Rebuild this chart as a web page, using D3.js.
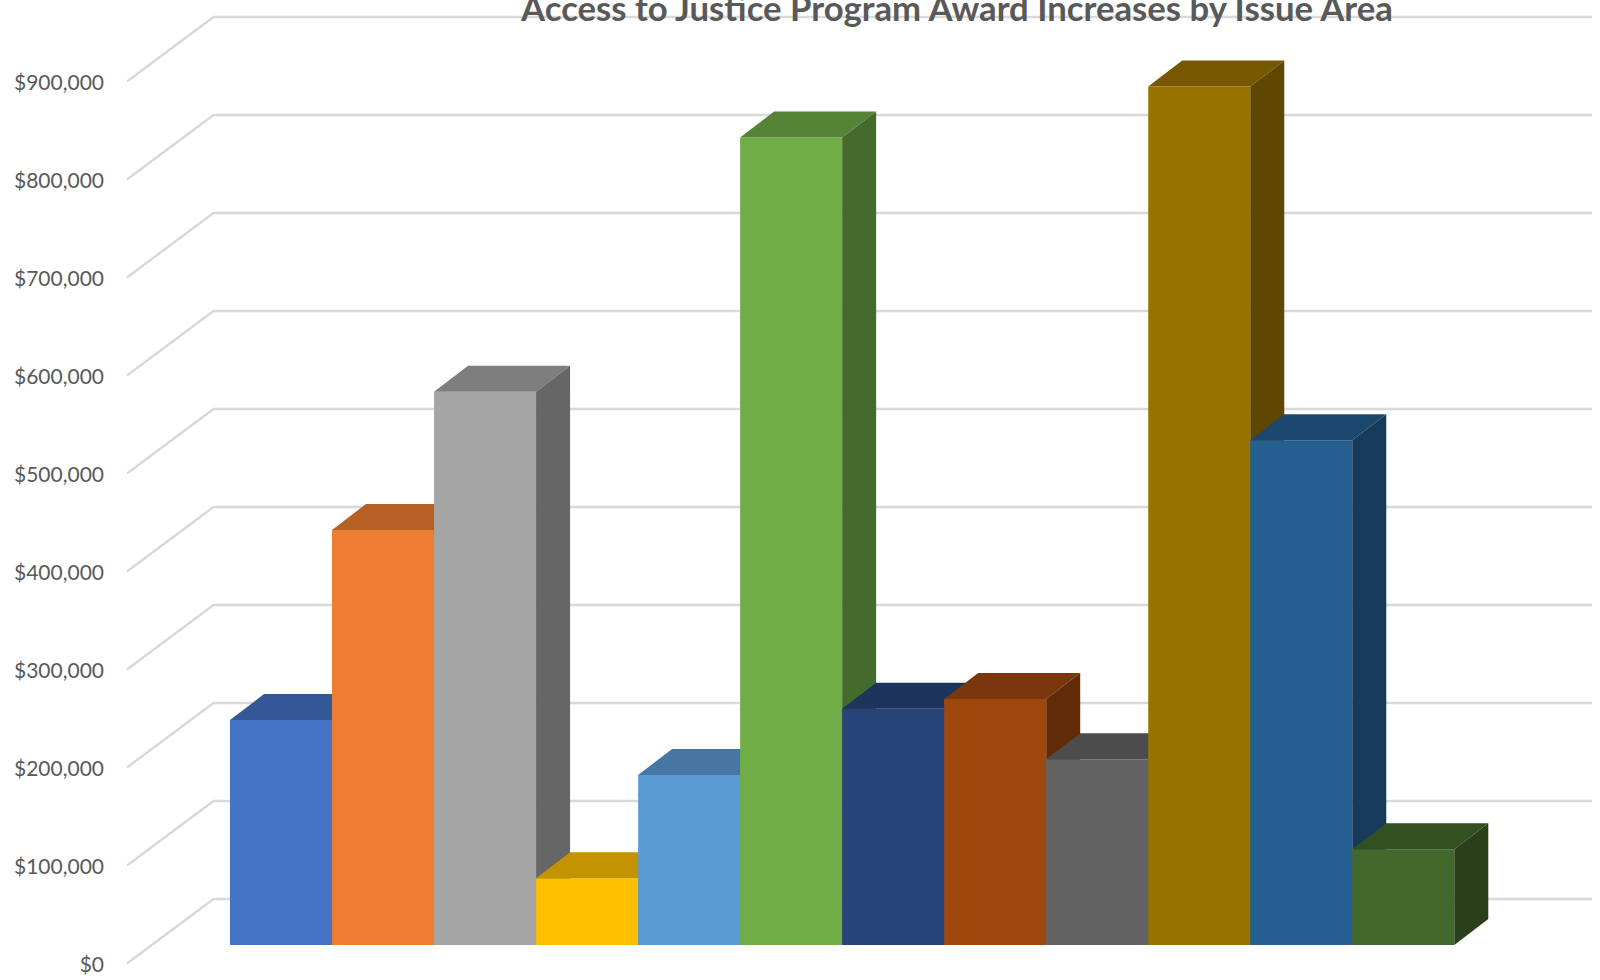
<!DOCTYPE html>
<html>
<head>
<meta charset="utf-8">
<script src="https://cdn.jsdelivr.net/npm/d3@7"></script>
<style>
  html, body { margin: 0; padding: 0; background: #ffffff; overflow: hidden; }
  svg { display: block; }
</style>
</head>
<body>
<svg id="chart" width="1600" height="980"></svg>
<script>
// ---------- data ----------
const title = "Access to Justice Program Award Increases by Issue Area";
const categories = ["Area 1", "Area 2", "Area 3", "Area 4", "Area 5", "Area 6",
                    "Area 7", "Area 8", "Area 9", "Area 10", "Area 11", "Area 12"];
const values = [229500, 423500, 564500, 68000, 173500, 824000,
                241000, 251000, 189500, 876000, 515000, 97700];
const colors = ["#4472C4", "#ED7D31", "#A5A5A5", "#FFC000", "#5B9BD5", "#70AD47",
                "#264478", "#9E480E", "#636363", "#997300", "#255E91", "#43682B"];
const tickValues = [0, 100000, 200000, 300000, 400000, 500000, 600000, 700000, 800000, 900000];

// ---------- layout ----------
const W = 1600, H = 980;
const wall = { left: 213.5, right: 1592 };
const sideDepth = { dx: -86.5, dy: 64.5 };   // back wall -> front plane
const barDepth = { dx: 34, dy: -26 };        // bar front -> bar back
const barBase = 945;                          // bar front-face bottom

const svg = d3.select("#chart");

// value scale on the back wall
const y = d3.scaleLinear().domain([0, 900000]).range([899, 17]);
// value scale on the bars' front plane
const yBar = d3.scaleLinear().domain([0, 900000]).range([barBase, barBase - (899 - 17)]);
const x = d3.scaleBand().domain(categories).range([230, 1454.3]).padding(0);

// ---------- gridlines ----------
const grid = svg.append("g").attr("fill", "none")
  .attr("stroke", "#D9D9D9").attr("stroke-width", 2.5)
  .attr("stroke-linejoin", "round").attr("stroke-linecap", "butt");
grid.selectAll("path").data(tickValues).join("path")
  .attr("d", d => {
    const yb = y(d);
    return `M${wall.left + sideDepth.dx},${yb + sideDepth.dy}L${wall.left},${yb}L${wall.right},${yb}`;
  });

// ---------- axis labels ----------
const fmt = d3.format("$,.0f");
svg.append("g").selectAll("text").data(tickValues).join("text")
  .attr("x", 104)
  .attr("y", d => y(d) + sideDepth.dy)
  .attr("text-anchor", "end")
  .attr("dominant-baseline", "central")
  .attr("font-family", "Lato, 'Open Sans', sans-serif")
  .attr("font-size", 21)
  .attr("fill", "#595959")
  .text(d => fmt(d));

// ---------- 3D bars ----------
const bars = svg.append("g");
categories.forEach((c, i) => {
  const v = values[i];
  const x0 = x(c), x1 = x0 + x.bandwidth();
  const yt = yBar(v), yb = yBar(0);
  const base = d3.rgb(colors[i]);
  const top = base.darker(0.75);
  const side = base.darker(1.35);
  const g = bars.append("g");
  // front face
  g.append("path")
    .attr("d", `M${x0},${yb}L${x0},${yt}L${x1},${yt}L${x1},${yb}Z`)
    .attr("fill", base.formatHex());
  // top face
  g.append("path")
    .attr("d", `M${x0},${yt}L${x0 + barDepth.dx},${yt + barDepth.dy}L${x1 + barDepth.dx},${yt + barDepth.dy}L${x1},${yt}Z`)
    .attr("fill", top.formatHex());
  // side face
  g.append("path")
    .attr("d", `M${x1},${yt}L${x1 + barDepth.dx},${yt + barDepth.dy}L${x1 + barDepth.dx},${yb + barDepth.dy}L${x1},${yb}Z`)
    .attr("fill", side.formatHex());
});

// ---------- title ----------
const t = svg.append("text")
  .attr("x", 957)
  .attr("y", 21)
  .attr("text-anchor", "middle")
  .attr("font-family", "Lato, 'Open Sans', sans-serif")
  .attr("font-weight", "bold")
  .attr("font-size", 30)
  .attr("fill", "#595959")
  .text(title);
const len = t.node().getComputedTextLength();
t.attr("font-size", 30 * 872 / len);
</script>
</body>
</html>
